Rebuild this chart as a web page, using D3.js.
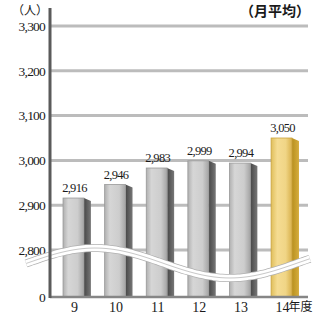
<!DOCTYPE html>
<meta charset="utf-8">
<style>
body { margin: 0; background: #fff; }
.tick text { font-family: "Liberation Serif", "DejaVu Serif", serif; font-size: 13.5px; fill: #1a1a1a; letter-spacing: -0.8px; }
.val { font-family: "Liberation Serif", "DejaVu Serif", serif; font-size: 12.5px; fill: #1a1a1a; letter-spacing: -0.7px; text-anchor: middle; }
.cat { font-family: "Liberation Serif", "DejaVu Serif", serif; font-size: 14px; fill: #1a1a1a; }
.cjk { font-family: "Noto Sans CJK JP", sans-serif; }
</style>
<svg width="316" height="314"></svg>
<script src="https://cdnjs.cloudflare.com/ajax/libs/d3/7.8.5/d3.min.js"></script>
<script>
var years = ["9", "10", "11", "12", "13", "14"];
var counts = [2916, 2946, 2983, 2999, 2994, 3050];
var yTicks = [0, 2800, 2900, 3000, 3100, 3200, 3300];

var svg = d3.select("svg");
var left = 50, right = 308, base = 297;

// broken axis: 0..2800 squeezed, 2800..3300 linear
var y = d3.scaleLinear().domain([0, 2800, 3300]).range([base, 250, 26]);
var x = d3.scaleBand().domain(years).range([52, 310])
    .paddingInner(0.33).paddingOuter(0.265);

var defs = svg.append("defs");
function grad(id, stops) {
  var g = defs.append("linearGradient").attr("id", id)
      .attr("x1", 0).attr("x2", 1).attr("y1", 0).attr("y2", 0);
  stops.forEach(function(s) {
    g.append("stop").attr("offset", s[0]).attr("stop-color", s[1]);
  });
}
grad("gf", [[0, "#b0b0b0"], [0.25, "#d6d6d6"], [0.7, "#cdcdcd"], [1, "#a4a4a4"]]);
grad("gs", [[0, "#474747"], [1, "#777"]]);
grad("yf", [[0, "#e0bf5c"], [0.3, "#f5dc92"], [0.7, "#f0d586"], [1, "#d9b14c"]]);
grad("ys", [[0, "#b8901e"], [1, "#d6ad3e"]]);

// grid lines
svg.append("g").selectAll("line")
    .data(yTicks.filter(function(d) { return d > 0; }))
  .enter().append("line")
    .attr("x1", left).attr("x2", right)
    .attr("y1", function(d) { return y(d); })
    .attr("y2", function(d) { return y(d); })
    .attr("stroke", "#bcbcbc").attr("stroke-width", 3);

// y axis labels
svg.append("g")
    .attr("transform", "translate(" + (left - 3) + ",0)")
    .call(d3.axisLeft(y).tickValues(yTicks).tickFormat(d3.format(",")).tickSize(0).tickPadding(2))
    .call(function(g) { g.select(".domain").remove(); });

// bars
var depth = 7;
var bw = x.bandwidth() - depth;
var bar = svg.append("g").selectAll("g")
    .data(counts)
  .enter().append("g");

bar.append("path")
    .attr("d", function(d, i) {
      var x0 = x(years[i]) + bw, t = y(d);
      return "M" + x0 + "," + t + "L" + (x0 + depth) + "," + (t + 3) +
             "L" + (x0 + depth) + "," + base + "L" + x0 + "," + base + "Z";
    })
    .attr("fill", function(d, i) { return i == 5 ? "url(#ys)" : "url(#gs)"; });

bar.append("rect")
    .attr("x", function(d, i) { return x(years[i]); })
    .attr("y", function(d) { return y(d); })
    .attr("width", bw)
    .attr("height", function(d) { return base - y(d); })
    .attr("fill", function(d, i) { return i == 5 ? "url(#yf)" : "url(#gf)"; })
    .attr("stroke", function(d, i) { return i == 5 ? "#c9a23e" : "#989898"; })
    .attr("stroke-width", 0.8);

bar.append("text")
    .attr("class", "val")
    .attr("x", function(d, i) { return x(years[i]) + bw / 2 + 1; })
    .attr("y", function(d) { return y(d) - 6; })
    .text(d3.format(","));

// wavy break band
var wave = d3.line().curve(d3.curveBasis);
var pts = d3.range(26, 312, 4).map(function(px) {
  return [px, 263 - 15 * Math.cos((px - 95) / 135 * Math.PI)];
});
svg.append("path").attr("d", wave(pts)).attr("fill", "none")
    .attr("stroke", "#b0b0b0").attr("stroke-width", 8);
svg.append("path").attr("d", wave(pts)).attr("fill", "none")
    .attr("stroke", "#fff").attr("stroke-width", 6.5);
svg.append("path").attr("d", wave(pts)).attr("fill", "none")
    .attr("stroke", "#c8c8c8").attr("stroke-width", 1);

// axes lines
svg.append("line").attr("x1", left).attr("x2", right)
    .attr("y1", base).attr("y2", base)
    .attr("stroke", "#868686").attr("stroke-width", 2.5);
svg.append("line").attr("x1", left).attr("x2", left)
    .attr("y1", 8).attr("y2", base + 1)
    .attr("stroke", "#5a5a5a").attr("stroke-width", 3);

// category labels
svg.append("g").selectAll("text")
    .data(years)
  .enter().append("text")
    .attr("class", "cat")
    .attr("x", function(d) { return x(d) + bw / 2 + 1; })
    .attr("y", 312)
    .attr("text-anchor", "middle")
    .text(function(d) { return d; });
svg.append("text")
    .attr("class", "cjk")
    .attr("x", x("14") + bw / 2 + 7)
    .attr("y", 311)
    .attr("font-size", 12).attr("fill", "#1a1a1a")
    .text("年度");

// titles
svg.append("text").attr("class", "cjk")
    .attr("x", 12).attr("y", 15)
    .attr("font-size", 12).attr("fill", "#1a1a1a")
    .text("（人）");
svg.append("text").attr("class", "cjk")
    .attr("x", 310).attr("y", 16)
    .attr("text-anchor", "end")
    .attr("font-size", 14).attr("font-weight", "bold").attr("fill", "#1a1a1a")
    .text("（月平均）");
</script>
